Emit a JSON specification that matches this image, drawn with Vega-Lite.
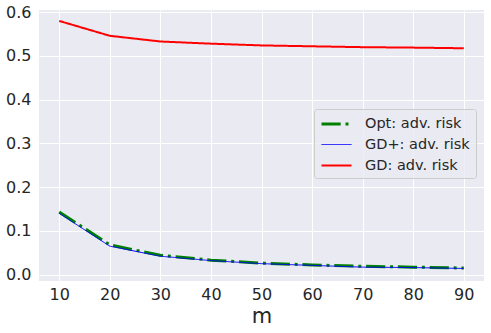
{
  "$schema": "https://vega.github.io/schema/vega-lite/v6.json",
  "width": 445,
  "height": 271,
  "autosize": {"type": "none"},
  "padding": {"left": 39, "top": 10, "right": 7, "bottom": 52},
  "background": "white",
  "config": {
    "font": "DejaVu Sans",
    "view": {"fill": "#eaeaf2", "stroke": null},
    "axis": {
      "domain": false,
      "ticks": false,
      "gridColor": "white",
      "gridWidth": 1,
      "gridOpacity": 1,
      "labelFont": "DejaVu Sans",
      "labelFontSize": 16,
      "labelColor": "#262626",
      "titleFont": "DejaVu Sans",
      "titleColor": "#262626",
      "titleFontWeight": "normal"
    }
  },
  "data": {
    "values": [
      {"series": "Opt: adv. risk", "m": 10, "risk": 0.143},
      {"series": "Opt: adv. risk", "m": 20, "risk": 0.068},
      {"series": "Opt: adv. risk", "m": 30, "risk": 0.044},
      {"series": "Opt: adv. risk", "m": 40, "risk": 0.033},
      {"series": "Opt: adv. risk", "m": 50, "risk": 0.026},
      {"series": "Opt: adv. risk", "m": 60, "risk": 0.022},
      {"series": "Opt: adv. risk", "m": 70, "risk": 0.019},
      {"series": "Opt: adv. risk", "m": 80, "risk": 0.017},
      {"series": "Opt: adv. risk", "m": 90, "risk": 0.015},
      {"series": "GD+: adv. risk", "m": 10, "risk": 0.140},
      {"series": "GD+: adv. risk", "m": 20, "risk": 0.065},
      {"series": "GD+: adv. risk", "m": 30, "risk": 0.042},
      {"series": "GD+: adv. risk", "m": 40, "risk": 0.032},
      {"series": "GD+: adv. risk", "m": 50, "risk": 0.025},
      {"series": "GD+: adv. risk", "m": 60, "risk": 0.021},
      {"series": "GD+: adv. risk", "m": 70, "risk": 0.017},
      {"series": "GD+: adv. risk", "m": 80, "risk": 0.016},
      {"series": "GD+: adv. risk", "m": 90, "risk": 0.014},
      {"series": "GD: adv. risk", "m": 10, "risk": 0.580},
      {"series": "GD: adv. risk", "m": 20, "risk": 0.546},
      {"series": "GD: adv. risk", "m": 30, "risk": 0.533},
      {"series": "GD: adv. risk", "m": 40, "risk": 0.528},
      {"series": "GD: adv. risk", "m": 50, "risk": 0.524},
      {"series": "GD: adv. risk", "m": 60, "risk": 0.522},
      {"series": "GD: adv. risk", "m": 70, "risk": 0.520},
      {"series": "GD: adv. risk", "m": 80, "risk": 0.519},
      {"series": "GD: adv. risk", "m": 90, "risk": 0.5175}
    ]
  },
  "mark": {"type": "line", "clip": true},
  "encoding": {
    "x": {
      "field": "m",
      "type": "quantitative",
      "scale": {"domain": [6, 94], "nice": false, "zero": false},
      "axis": {"values": [10, 20, 30, 40, 50, 60, 70, 80, 90], "title": "m", "titleFontSize": 21, "titlePadding": 3, "labelPadding": 5, "grid": true}
    },
    "y": {
      "field": "risk",
      "type": "quantitative",
      "scale": {"domain": [-0.0147, 0.605], "nice": false, "zero": false},
      "axis": {"values": [0, 0.1, 0.2, 0.3, 0.4, 0.5, 0.6], "format": ".1f", "title": null, "labelPadding": 8}
    },
    "color": {
      "field": "series",
      "type": "nominal",
      "scale": {"domain": ["Opt: adv. risk", "GD+: adv. risk", "GD: adv. risk"], "range": ["#008000", "#0000ff", "#ff0000"]},
      "legend": {
        "title": null,
        "orient": "none",
        "legendX": 275,
        "legendY": 99,
        "symbolType": "M-1,0H3",
        "symbolSize": 225,
        "symbolFillColor": "transparent",
        "labelFontSize": 14.5,
        "labelColor": "#262626",
        "labelFont": "DejaVu Sans",
        "labelOffset": 27,
        "rowPadding": 5.5,
        "padding": 6,
        "fillColor": "rgba(234,234,242,0.8)",
        "strokeColor": "#cccccc",
        "cornerRadius": 3
      }
    },
    "strokeWidth": {
      "field": "series",
      "type": "nominal",
      "scale": {"type": "ordinal", "domain": ["Opt: adv. risk", "GD+: adv. risk", "GD: adv. risk"], "range": [3, 1, 2]},
      "legend": null
    },
    "strokeDash": {
      "field": "series",
      "type": "nominal",
      "scale": {"domain": ["Opt: adv. risk", "GD+: adv. risk", "GD: adv. risk"], "range": [[19.2, 4.8, 3, 4.8], [1, 0], [1, 0]]},
      "legend": null
    },
    "order": {"field": "m"}
  }
}
